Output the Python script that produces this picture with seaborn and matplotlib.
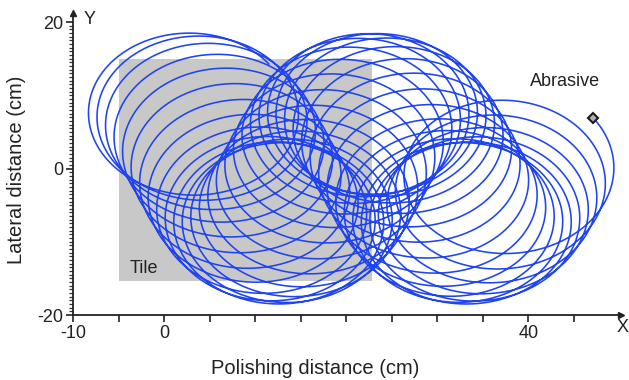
import numpy as np
import pandas as pd
import matplotlib
matplotlib.use("Agg")
import matplotlib.pyplot as plt
from matplotlib.ticker import FixedLocator
import seaborn as sns

# kinematic parameters of the abrasive path (cm)
head_radius_x = 11.3          # abrasive radius seen along x
head_radius_y = 11.0          # abrasive radius seen along y
feed_start = 2.6              # head centre x at start
feed_end = 38.2               # head centre x at end
lateral_amp = 7.5             # lateral swing of the head centre
lateral_period = 20.3         # polishing distance per lateral swing
n_turns = 38                  # revolutions of the head
end_angle_deg = 38            # abrasive angle at the end point

# tile and labels
tile_x = [-5.0, 22.8]
tile_y = [-15.4, 15.0]
xtick_vals = [-10, -5, 0, 5, 10, 15, 20, 25, 30, 35, 40, 45]
xtick_text = ["-10", "", "0", "", "", "", "", "", "", "", "40", ""]
ytick_vals = [-20, 0, 20]
ytick_text = ["-20", "0", "20"]
yminor_step = 0.5

# build the path
t = np.linspace(0, 1, n_turns * 240)
xc = feed_start + (feed_end - feed_start) * t
yc = lateral_amp * np.cos(2 * np.pi * (xc - feed_start) / lateral_period)
theta = np.deg2rad(end_angle_deg) - 2 * np.pi * n_turns * (1 - t)
path = pd.DataFrame({"x": xc + head_radius_x * np.cos(theta),
                     "y": yc + head_radius_y * np.sin(theta)})

sns.set_theme(style="ticks", rc={"ytick.minor.size": 3, "ytick.minor.width": 0.9,
                                 "ytick.minor.left": True})
plt.rcParams["font.family"] = ["Liberation Sans", "DejaVu Sans"]

fig = plt.figure(figsize=(6.29, 3.8), dpi=100)
ax = fig.add_axes([0.1165, 0.171, 0.871, 0.794])

ax.fill_between(tile_x, tile_y[0], tile_y[1], color="#c8c8c8", lw=0, zorder=0)
sns.lineplot(data=path, x="x", y="y", sort=False, estimator=None,
             color="#1f44f0", lw=1.15, ax=ax, zorder=2)
ax.plot(path["x"].iloc[-1], path["y"].iloc[-1], marker="D", ms=5,
        mfc="#b0b0b0", mec="#1a1a1a", mew=1.5, zorder=3)

ax.text(-3.8, -13.6, "Tile", fontsize=13, color="#222222", va="center")
ax.text(44.0, 11.9, "Abrasive", fontsize=13, color="#222222",
        ha="center", va="center")

ax.set_xlim(-10, 50.2)
ax.set_ylim(-20, 21.2)
sns.despine(ax=ax)
for side in ["left", "bottom"]:
    ax.spines[side].set_linewidth(1.3)
    ax.spines[side].set_color("#222222")

ax.set_xticks(xtick_vals)
ax.set_xticklabels(xtick_text)
ax.set_yticks(ytick_vals)
ax.set_yticklabels(ytick_text)
ax.set_xlabel("")
ax.set_ylabel("")
ax.yaxis.set_minor_locator(FixedLocator(np.arange(-20, 20.01, yminor_step)))
ax.tick_params(axis="both", which="major", labelsize=13, length=5, width=1.2,
               colors="#222222", pad=2)
ax.tick_params(axis="y", which="minor", left=True, length=3, width=0.9,
               color="#333333")

# arrow heads and axis names
ax.plot(1, 0, ">", color="#222222", ms=5, transform=ax.transAxes, clip_on=False)
ax.plot(0, 1, "^", color="#222222", ms=5, transform=ax.transAxes, clip_on=False)
fig.text(623 / 629, 1 - 328 / 380, "X", fontsize=13, ha="center", va="center",
         color="#222222")
fig.text(90 / 629, 1 - 20 / 380, "Y", fontsize=13, ha="center", va="center",
         color="#222222")

fig.text(315 / 629, 1 - 369 / 380, "Polishing distance (cm)", fontsize=14.5,
         ha="center", va="center", color="#222222")
fig.text(17 / 629, 1 - 170 / 380, "Lateral distance (cm)", fontsize=14.5,
         rotation=90, ha="center", va="center", color="#222222")

fig.savefig("out.png", dpi=100)
